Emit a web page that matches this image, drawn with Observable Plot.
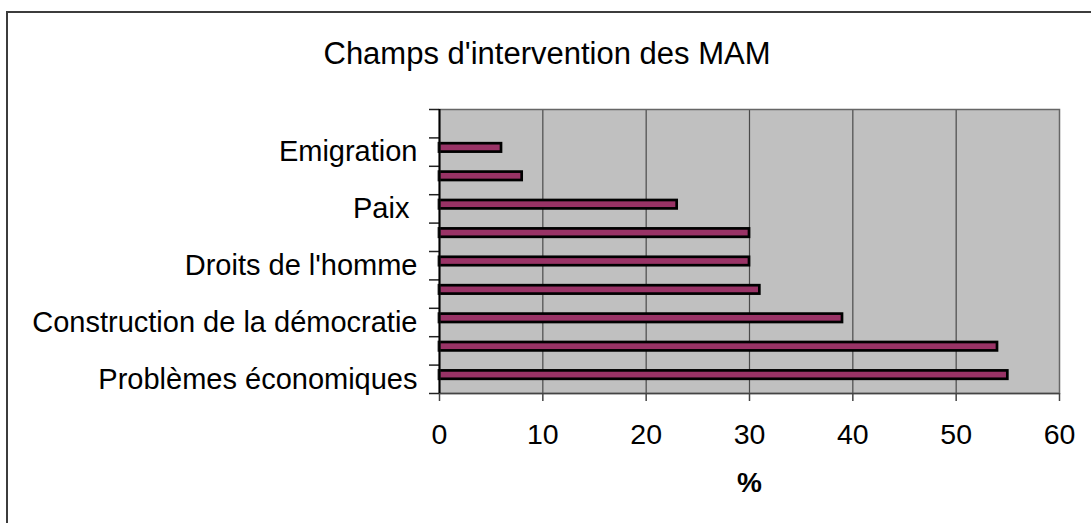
<!DOCTYPE html>
<html>
<head>
<meta charset="utf-8">
<script src="https://cdn.jsdelivr.net/npm/d3@7"></script>
<script src="https://cdn.jsdelivr.net/npm/@observablehq/plot@0.6"></script>
<style>
  html, body { margin: 0; padding: 0; background: #fff; overflow: hidden; }
  #wrap { position: relative; width: 1091px; height: 523px; font-family: "Liberation Sans", Arial, sans-serif; }
  #border { position: absolute; left: 6px; top: 11px; width: 1200px; height: 700px; border: 2px solid #3c3c3c; box-sizing: border-box; }
  #title { position: absolute; left: 547px; top: 36px; transform: translateX(-50%); font-size: 31px; line-height: 36px; white-space: nowrap; color: #000; }
  #chart { position: absolute; left: 0; top: 0; }
</style>
</head>
<body>
<div id="wrap">
  <div id="border"></div>
  <div id="chart"></div>
  <div id="title">Champs d'intervention des MAM</div>
</div>
<script>
// Categories bottom → top (Excel order); unlabeled slots have empty labels
const categories = ["Problèmes économiques", "", "Construction de la démocratie", "", "Droits de l'homme", "", "Paix\u00a0", "", "Emigration", ""];
const values = [55, 54, 39, 31, 30, 30, 23, 8, 6, null];
const xTicks = [0, 10, 20, 30, 40, 50, 60];
const xLabel = "%";

const data = values
  .map((v, i) => ({slot: i, label: categories[i], value: v}))
  .filter(d => d.value != null);

const labelSlots = categories.map((c, i) => i).filter(i => categories[i] !== "");

const chart = Plot.plot({
  width: 1091,
  height: 523,
  marginLeft: 439,
  marginRight: 32,
  marginTop: 109,
  marginBottom: 130,
  style: {fontFamily: "'Liberation Sans', Arial, sans-serif", fontSize: "28px", background: "transparent", color: "#000", overflow: "visible"},
  x: {domain: [0, 60], label: null},
  y: {domain: [0, categories.length], label: null},
  marks: [
    Plot.frame({fill: "#c0c0c0", stroke: null}),
    Plot.gridX({ticks: xTicks.slice(1, -1), stroke: "#4a4a4a", strokeOpacity: 1, strokeWidth: 1.2}),
    Plot.rectX(data, {x1: 0, x2: "value", y: "slot", interval: 1, insetTop: 5.8, insetBottom: 14.2, fill: "#993366", stroke: "#000", strokeWidth: 2.7}),
    Plot.frame({stroke: "#666", strokeWidth: 1.5}),
    Plot.axisX({ticks: xTicks, tickSize: 8, tickPadding: 22, stroke: "#444", strokeWidth: 1.5, fontSize: 28.5, label: null}),
    Plot.ruleY([0], {stroke: "#444", strokeWidth: 1.5}),
    Plot.axisY({ticks: d3.range(categories.length + 1), tickSize: 10, tickFormat: () => "", stroke: "#222", strokeWidth: 1.5, label: null}),
    Plot.axisY({ticks: labelSlots.map(i => i + 0.5), tickSize: 0, tickPadding: 22, fontSize: 29, tickFormat: t => categories[Math.floor(t)], label: null}),
    Plot.ruleX([0], {stroke: "#000", strokeWidth: 2}),
    Plot.text([xLabel], {text: d => d, frameAnchor: "bottom", lineAnchor: "middle", dy: 90, fontWeight: "bold", fontSize: 28, fill: "#000"})
  ]
});
document.getElementById("chart").appendChild(chart);
</script>
</body>
</html>
